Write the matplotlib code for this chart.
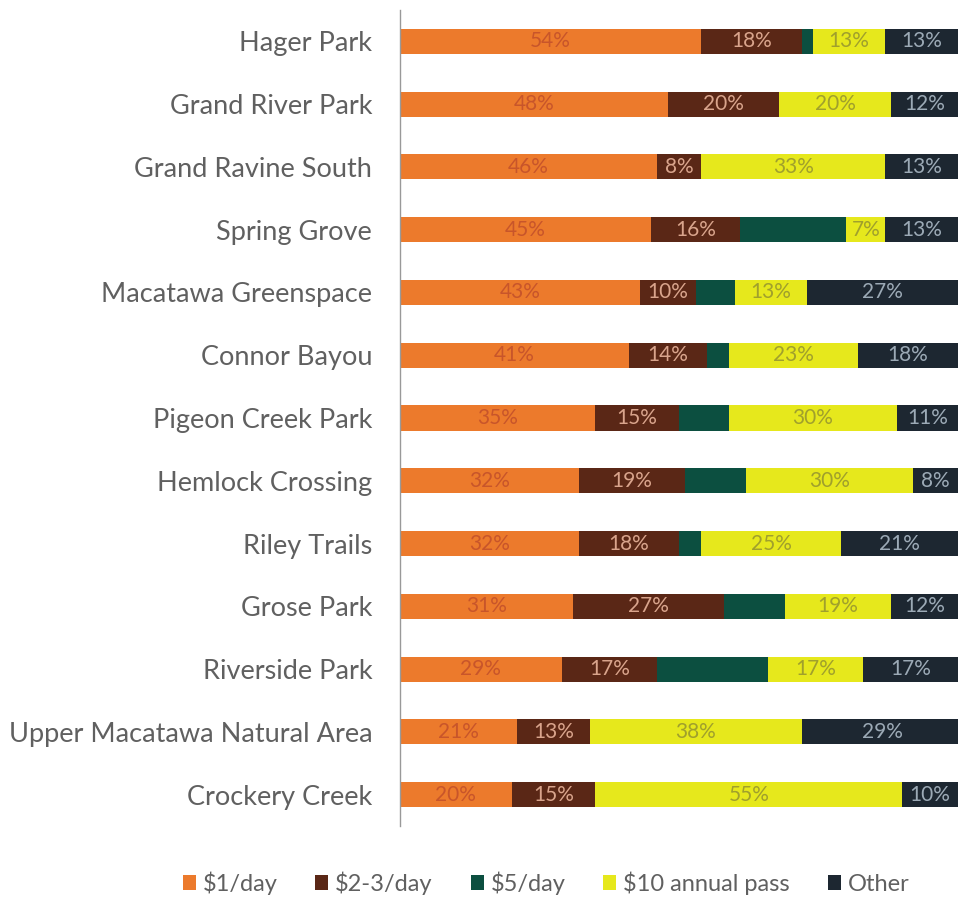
import matplotlib.pyplot as plt
import numpy as np

# Data
parks = ['Hager Park', 'Grand River Park', 'Grand Ravine South', 'Spring Grove',
         'Macatawa Greenspace', 'Connor Bayou', 'Pigeon Creek Park', 'Hemlock Crossing',
         'Riley Trails', 'Grose Park', 'Riverside Park', 'Upper Macatawa Natural Area',
         'Crockery Creek']
one_day = [54, 48, 46, 45, 43, 41, 35, 32, 32, 31, 29, 21, 20]
two_three_day = [18, 20, 8, 16, 10, 14, 15, 19, 18, 27, 17, 13, 15]
five_day = [2, 0, 0, 19, 7, 4, 9, 11, 4, 11, 20, 0, 0]
annual_pass = [13, 20, 33, 7, 13, 23, 30, 30, 25, 19, 17, 38, 55]
other = [13, 12, 13, 13, 27, 18, 11, 8, 21, 12, 17, 29, 10]

series = [
    ('$1/day', one_day, '#EC7A2C', '#C8552A', True),
    ('$2-3/day', two_three_day, '#5A2716', '#D9A48C', True),
    ('$5/day', five_day, '#0C4F40', '#0C4F40', False),
    ('$10 annual pass', annual_pass, '#E6E81C', '#A0A02C', True),
    ('Other', other, '#1D2731', '#9CAAB6', True),
]

plt.rcParams['font.family'] = ['Lato', 'DejaVu Sans']

fig = plt.figure(figsize=(9.58, 9.0), dpi=100)
ax = fig.add_axes([400 / 958, 1 - 826 / 900, 558 / 958, 816 / 900])

y = np.arange(len(parks))
left = np.zeros(len(parks))
for name, vals, color, txt_color, show in series:
    vals = np.array(vals, dtype=float)
    ax.barh(y, vals, left=left, height=0.4, color=color, label=name)
    if show:
        for yi, l, v in zip(y, left, vals):
            if v > 0:
                ax.text(l + v / 2, yi, f'{int(v)}%', ha='center', va='center',
                        color=txt_color, fontsize=15)
    left += vals

ax.set_xlim(0, 100)
ax.set_ylim(len(parks) - 0.5, -0.5)
ax.set_yticks(y)
ax.set_yticklabels(parks, fontsize=19.5, color='#606060')
ax.tick_params(axis='y', length=0, pad=20)
ax.set_xticks([])
for s in ['top', 'right', 'bottom']:
    ax.spines[s].set_visible(False)
ax.spines['left'].set_color('#999999')
ax.spines['left'].set_linewidth(1.0)

leg = fig.legend(loc='center', bbox_to_anchor=(0.57, 1 - 883 / 900), ncol=5,
                 frameon=False, fontsize=17, handlelength=0.55, handleheight=0.55,
                 handletextpad=0.3, columnspacing=1.6)
for t in leg.get_texts():
    t.set_color('#606060')

fig.savefig('out.png', dpi=100)
